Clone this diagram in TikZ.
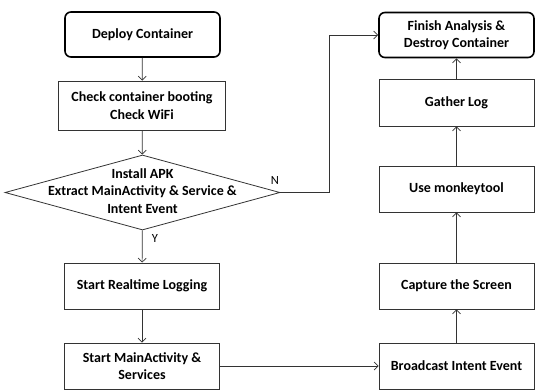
\documentclass[tikz,border=0pt]{standalone}
\usepackage{fontspec}
\setmainfont{Carlito}
\usetikzlibrary{shapes.geometric,arrows.meta}
\begin{document}
\begin{tikzpicture}[x=1pt,y=-1pt,
  every node/.style={font=\fontsize{14}{17.5}\selectfont\bfseries},
  proc/.style={draw=black!80, line width=0.8pt, minimum width=155pt, minimum height=46pt, inner sep=0pt, align=center},
  term/.style={draw=black, line width=1.6pt, rounded corners=6pt, minimum width=155pt, minimum height=45pt, inner sep=0pt, align=center},
  conn/.style={draw=black!80, line width=0.7pt, -{Straight Barb[length=4pt,width=8pt]}},
  lbl/.style={font=\fontsize{12.5}{14}\selectfont}]
\useasboundingbox (0,0) rectangle (535,389);
\clip (0,0) rectangle (535,389);
\node[term] (deploy) at (142.5,34.5) {Deploy Container};
\node[proc, minimum width=167pt, minimum height=49pt] (check) at (142,105.5) {Check container booting\\Check WiFi};
\node[draw=black!80, line width=0.8pt, shape=diamond, aspect=3.67, minimum width=275pt, minimum height=75pt, inner sep=0pt] (dec) at (142.5,192.5) {};
\node[align=center, inner sep=0pt] (dectext) at (142.5,191) {Install APK\\Extract MainActivity \& Service \&\\Intent Event};
\node[proc] (rt) at (142,286) {Start Realtime Logging};
\node[proc] (ma) at (142,366) {Start MainActivity \&\\Services};
\node[proc] (bc) at (456.5,366) {Broadcast Intent Event};
\node[proc] (cap) at (456.5,286) {Capture the Screen};
\node[proc] (mk) at (456.5,189) {Use monkeytool};
\node[proc, minimum height=47pt] (gl) at (456.5,102.5) {Gather Log};
\node[term] (fin) at (456.5,35) {Finish Analysis \&\\Destroy Container};
\coordinate (nturn) at (329,192.5);
\node[lbl] (nlab) at (275,180) {N};
\node[lbl] (ylab) at (155,238) {Y};
\draw[conn] (deploy) -- (check);
\draw[conn] (check) -- (dec);
\draw[conn] (dec) -- (rt);
\draw[conn] (rt) -- (ma);
\draw[conn] (ma) -- (bc);
\draw[conn] (bc) -- (cap);
\draw[conn] (cap) -- (mk);
\draw[conn] (mk) -- (gl);
\draw[conn] (gl) -- (fin);
\draw[conn] (dec.east) -- (nturn) |- (fin.west);
\end{tikzpicture}
\end{document}
